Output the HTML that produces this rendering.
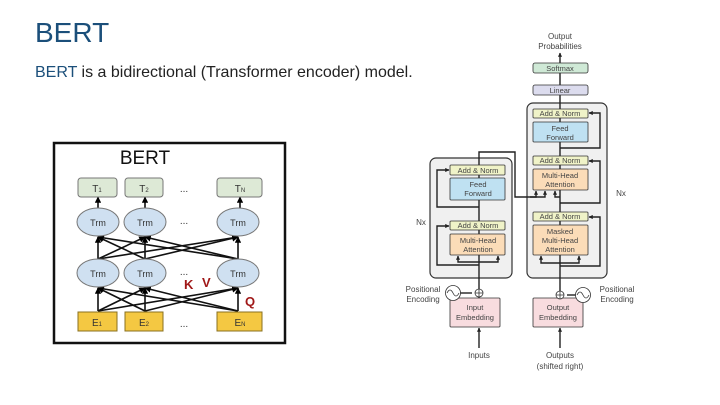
<!DOCTYPE html>
<html><head><meta charset="utf-8"><style>
html,body{margin:0;padding:0;background:#fff;}
svg{display:block;font-family:"Liberation Sans",sans-serif;}
</style></head><body>
<svg width="720" height="405" viewBox="0 0 720 405" xmlns="http://www.w3.org/2000/svg">
<defs>
<marker id="a" viewBox="0 0 10 10" refX="9" refY="5" markerWidth="4" markerHeight="4" orient="auto"><path d="M0,0L10,5L0,10z" fill="#000"/></marker>
<marker id="b" viewBox="0 0 10 10" refX="9" refY="5" markerWidth="3" markerHeight="3" orient="auto"><path d="M0,0L10,5L0,10z" fill="#222"/></marker>
</defs>
<text x="35" y="42" font-size="28" fill="#1b4f7a">BERT</text>
<text x="35" y="77" font-size="16" fill="#222"><tspan fill="#1b4f7a">BERT</tspan> is a bidirectional (Transformer encoder) model.</text>

<!-- BERT box -->
<rect x="54" y="143" width="231" height="200" fill="#fff" stroke="#111" stroke-width="2.5"/>
<text x="145" y="164" font-size="19" text-anchor="middle" fill="#111">BERT</text>
<g stroke="#111" stroke-width="1.6" fill="none" marker-end="url(#a)">
<line x1="98" y1="311" x2="98" y2="288"/><line x1="98" y1="311" x2="145" y2="288"/><line x1="98" y1="311" x2="238" y2="288"/>
<line x1="145" y1="311" x2="98" y2="288"/><line x1="145" y1="311" x2="145" y2="288"/><line x1="145" y1="311" x2="238" y2="288"/>
<line x1="238" y1="311" x2="98" y2="288"/><line x1="238" y1="311" x2="145" y2="288"/><line x1="238" y1="311" x2="238" y2="288"/>
<line x1="98" y1="259" x2="98" y2="237"/><line x1="98" y1="259" x2="145" y2="237"/><line x1="98" y1="259" x2="238" y2="237"/>
<line x1="145" y1="259" x2="98" y2="237"/><line x1="145" y1="259" x2="145" y2="237"/><line x1="145" y1="259" x2="238" y2="237"/>
<line x1="238" y1="259" x2="98" y2="237"/><line x1="238" y1="259" x2="145" y2="237"/><line x1="238" y1="259" x2="238" y2="237"/>
<line x1="98" y1="208" x2="98" y2="197"/><line x1="145" y1="208" x2="145" y2="197"/><line x1="240" y1="208" x2="240" y2="197"/>
</g>
<g fill="#dfeaf3" stroke="#777" stroke-width="1">
<rect x="78" y="178" width="39" height="19" rx="3" fill="#dde9d6"/>
<rect x="125" y="178" width="38" height="19" rx="3" fill="#dde9d6"/>
<rect x="217" y="178" width="45" height="19" rx="3" fill="#dde9d6"/>
<ellipse cx="98" cy="222" rx="21" ry="14" fill="#cfe0f1"/>
<ellipse cx="145" cy="222" rx="21" ry="14" fill="#cfe0f1"/>
<ellipse cx="238" cy="222" rx="21" ry="14" fill="#cfe0f1"/>
<ellipse cx="98" cy="273" rx="21" ry="14" fill="#cfe0f1"/>
<ellipse cx="145" cy="273" rx="21" ry="14" fill="#cfe0f1"/>
<ellipse cx="238" cy="273" rx="21" ry="14" fill="#cfe0f1"/>
<rect x="78" y="312" width="39" height="19" fill="#f4c842" stroke="#8a7020"/>
<rect x="125" y="312" width="38" height="19" fill="#f4c842" stroke="#8a7020"/>
<rect x="217" y="312" width="45" height="19" fill="#f4c842" stroke="#8a7020"/>
</g>
<g font-size="10" fill="#333" text-anchor="middle">
<text x="97" y="192">T<tspan font-size="6">1</tspan></text>
<text x="144" y="192">T<tspan font-size="6">2</tspan></text>
<text x="240" y="192">T<tspan font-size="6">N</tspan></text>
<text x="98" y="226" font-size="9">Trm</text><text x="145" y="226" font-size="9">Trm</text><text x="238" y="226" font-size="9">Trm</text>
<text x="98" y="277" font-size="9">Trm</text><text x="145" y="277" font-size="9">Trm</text><text x="238" y="277" font-size="9">Trm</text>
<text x="97" y="326">E<tspan font-size="6">1</tspan></text>
<text x="144" y="326">E<tspan font-size="6">2</tspan></text>
<text x="240" y="326">E<tspan font-size="6">N</tspan></text>
<text x="184" y="192">...</text><text x="184" y="224">...</text><text x="184" y="275">...</text><text x="184" y="327">...</text>
</g>
<g font-size="13" font-weight="bold" fill="#a01818">
<text x="184" y="289">K</text><text x="202" y="287">V</text><text x="245" y="306">Q</text>
</g>

<!-- Transformer -->
<g font-size="8" fill="#444" text-anchor="middle">
<text x="560" y="39">Output</text><text x="560" y="49">Probabilities</text>
<text x="479" y="358">Inputs</text>
<text x="560" y="358">Outputs</text><text x="560" y="369">(shifted right)</text>
<text x="421" y="225">Nx</text><text x="621" y="196">Nx</text>
<text x="423" y="292">Positional</text><text x="423" y="302">Encoding</text>
<text x="617" y="292">Positional</text><text x="617" y="302">Encoding</text>
</g>
<rect x="430" y="158" width="82" height="120" rx="6" fill="#f0f0f0" stroke="#333" stroke-width="1.2"/>
<rect x="527" y="103" width="80" height="175" rx="6" fill="#f0f0f0" stroke="#333" stroke-width="1.2"/>
<g stroke="#222" stroke-width="1.4" fill="none">
<line x1="479" y1="348" x2="479" y2="328" marker-end="url(#b)"/>
<line x1="479" y1="298" x2="479" y2="165"/>
<line x1="460" y1="293" x2="472" y2="293"/>
<path d="M479,262 H458 V256" marker-end="url(#b)"/><path d="M479,262 H498 V256" marker-end="url(#b)"/>
<path d="M479,265 H437 V226 H449" marker-end="url(#b)"/>
<path d="M479,207 H437 V170 H449" marker-end="url(#b)"/>
<path d="M479,165 V152 H515 V197 H545 V191" marker-end="url(#b)"/>
<path d="M530,197 H536 V191" marker-end="url(#b)"/>
<line x1="560" y1="348" x2="560" y2="328" marker-end="url(#b)"/>
<line x1="560" y1="298" x2="560" y2="53" marker-end="url(#b)"/>
<line x1="567" y1="295" x2="576" y2="295"/>
<path d="M560,263 H541 V256" marker-end="url(#b)"/><path d="M560,263 H579 V256" marker-end="url(#b)"/>
<path d="M560,266 H600 V217 H589" marker-end="url(#b)"/>
<path d="M560,203 H600 V161 H589" marker-end="url(#b)"/>
<path d="M560,148 H600 V113 H589" marker-end="url(#b)"/>
<path d="M560,197 H555 V191" marker-end="url(#b)"/>
</g>
<g stroke="#333" stroke-width="0.8" font-size="7.5" text-anchor="middle" fill="#444">
<rect x="533" y="63" width="55" height="10" rx="2" fill="#cfe9d6"/>
<rect x="533" y="85" width="55" height="10" rx="2" fill="#dcdcee"/>
<rect x="533" y="109" width="55" height="9" rx="1" fill="#f0f3c8"/>
<rect x="533" y="122" width="55" height="20" rx="1" fill="#bfe1f2"/>
<rect x="533" y="156" width="55" height="9" rx="1" fill="#f0f3c8"/>
<rect x="533" y="169" width="55" height="21" rx="1" fill="#fbdcb8"/>
<rect x="533" y="212" width="55" height="9" rx="1" fill="#f0f3c8"/>
<rect x="533" y="225" width="55" height="30" rx="1" fill="#fbdcb8"/>
<rect x="450" y="165" width="55" height="10" rx="1" fill="#f0f3c8"/>
<rect x="450" y="178" width="55" height="22" rx="1" fill="#bfe1f2"/>
<rect x="450" y="221" width="55" height="9" rx="1" fill="#f0f3c8"/>
<rect x="450" y="234" width="55" height="21" rx="1" fill="#fbdcb8"/>
<rect x="450" y="298" width="50" height="29" rx="1" fill="#f8dcdf"/>
<rect x="533" y="298" width="50" height="29" rx="1" fill="#f8dcdf"/>
<circle cx="479" cy="293" r="4" fill="#fff"/><circle cx="560" cy="295" r="4" fill="#fff"/>
<circle cx="453" cy="293" r="7.5" fill="#fff"/><circle cx="583" cy="295" r="7.5" fill="#fff"/>
</g>
<g stroke="#333" stroke-width="0.8" fill="none">
<path d="M475,293H483M479,289V297M556,295H564M560,291V299"/>
<path d="M447,293 Q450,287 453,293 T459,293"/><path d="M577,295 Q580,289 583,295 T589,295"/>
</g>
<g font-size="7.5" text-anchor="middle" fill="#444">
<text x="560" y="71">Softmax</text><text x="560" y="93">Linear</text>
<text x="560" y="116">Add &amp; Norm</text><text x="560" y="131">Feed</text><text x="560" y="140">Forward</text>
<text x="560" y="163">Add &amp; Norm</text><text x="560" y="178">Multi-Head</text><text x="560" y="187">Attention</text>
<text x="560" y="219">Add &amp; Norm</text><text x="560" y="234">Masked</text><text x="560" y="243">Multi-Head</text><text x="560" y="252">Attention</text>
<text x="478" y="173">Add &amp; Norm</text><text x="478" y="187">Feed</text><text x="478" y="196">Forward</text>
<text x="478" y="228">Add &amp; Norm</text><text x="478" y="243">Multi-Head</text><text x="478" y="252">Attention</text>
<text x="475" y="310">Input</text><text x="475" y="320">Embedding</text>
<text x="558" y="310">Output</text><text x="558" y="320">Embedding</text>
</g>
</svg>
</body></html>
